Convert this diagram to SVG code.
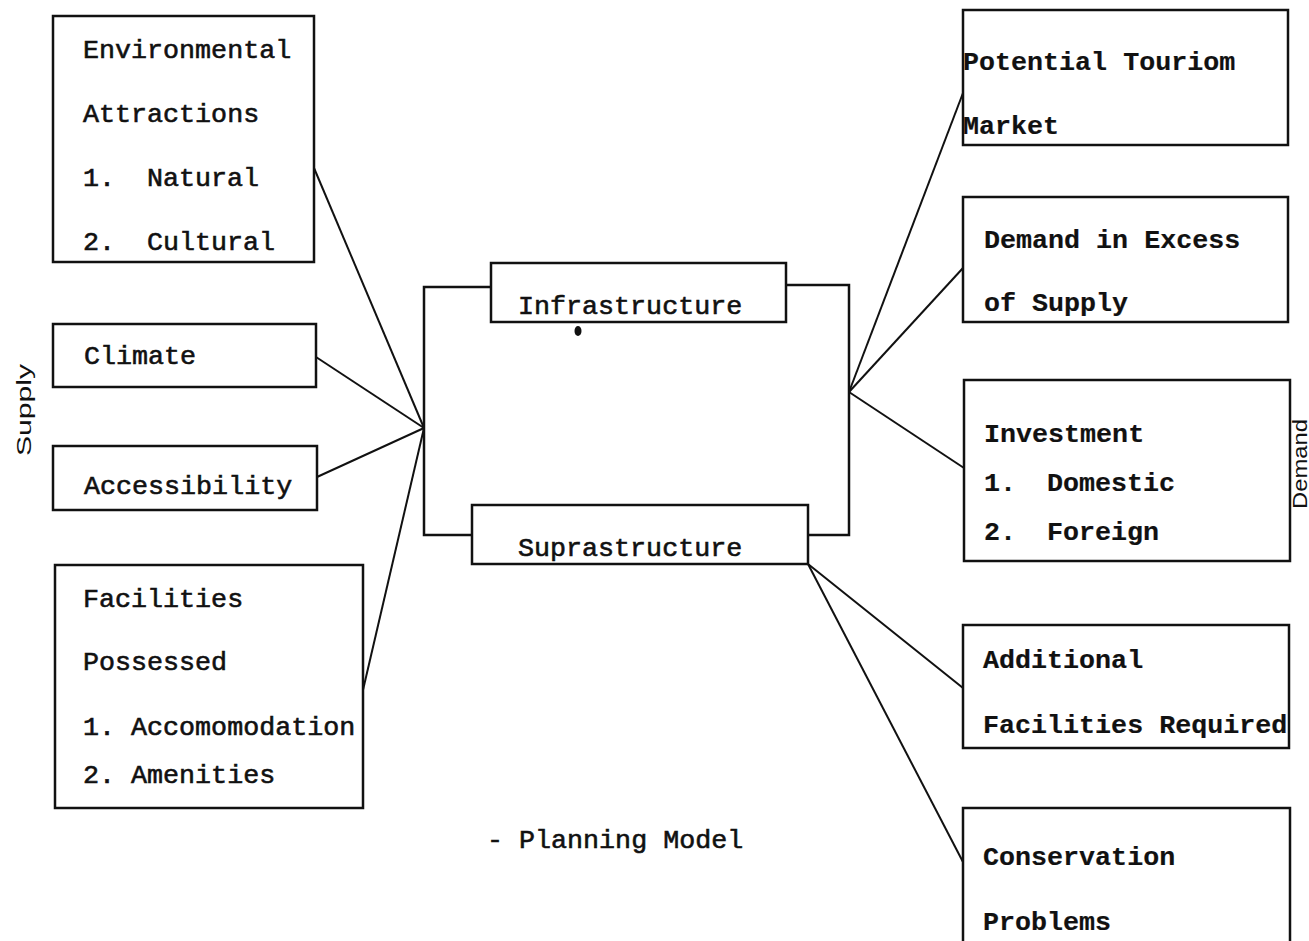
<svg xmlns="http://www.w3.org/2000/svg" width="1309" height="941" viewBox="0 0 1309 941">
<style>
.box{fill:none;stroke:#111;stroke-width:2.5}
.ln{fill:none;stroke:#111;stroke-width:2}
.t{font-family:"Liberation Mono","Courier New",monospace;font-size:26.7px;fill:#111;stroke:#111;stroke-width:0.6}
.b{font-weight:bold;stroke-width:0.2}
.lab{font-family:"Liberation Sans",Arial,sans-serif;font-size:21px;fill:#111}
</style>
<rect width="1309" height="941" fill="#ffffff"/>
<g id="connectors">
<line class="ln" x1="314" y1="168" x2="424" y2="428"/>
<line class="ln" x1="316" y1="357" x2="424" y2="428"/>
<line class="ln" x1="317" y1="477" x2="424" y2="428"/>
<line class="ln" x1="363" y1="690" x2="424" y2="428"/>
<line class="ln" x1="849" y1="392" x2="963" y2="93"/>
<line class="ln" x1="849" y1="392" x2="963" y2="268"/>
<line class="ln" x1="849" y1="392" x2="964" y2="468"/>
<line class="ln" x1="808" y1="564" x2="963" y2="688"/>
<line class="ln" x1="808" y1="564" x2="963" y2="862"/>
<path class="box" d="M491,287 H424 V535 H472 M786,285 H849 V535 H808"/>
</g>
<g id="environmental">
<rect class="box" x="53" y="16" width="261" height="246"/>
<text class="t" x="83" y="58">Environmental</text>
<text class="t" x="83" y="122">Attractions</text>
<text class="t" x="83" y="186">1.</text><text class="t" x="147" y="186">Natural</text>
<text class="t" x="83" y="250">2.</text><text class="t" x="147" y="250">Cultural</text>
</g>
<g id="climate">
<rect class="box" x="53" y="324" width="263" height="63"/>
<text class="t" x="84" y="364">Climate</text>
</g>
<g id="accessibility">
<rect class="box" x="53" y="446" width="264" height="64"/>
<text class="t" x="84" y="494">Accessibility</text>
</g>
<g id="facilities">
<rect class="box" x="55" y="565" width="308" height="243"/>
<text class="t" x="83" y="607">Facilities</text>
<text class="t" x="83" y="670">Possessed</text>
<text class="t" x="83" y="735">1. Accomomodation</text>
<text class="t" x="83" y="783">2. Amenities</text>
</g>
<g id="supply-label">
<text class="lab" transform="translate(31,410) rotate(-90)" text-anchor="middle" textLength="92" lengthAdjust="spacingAndGlyphs">Supply</text>
</g>
<g id="infrastructure">
<rect class="box" x="491" y="263" width="295" height="59"/>
<text class="t" x="518" y="314">Infrastructure</text>
<ellipse cx="578" cy="331" rx="3.5" ry="5" fill="#111"/>
</g>
<g id="suprastructure">
<rect class="box" x="472" y="505" width="336" height="59"/>
<text class="t" x="518" y="556">Suprastructure</text>
</g>
<g id="caption">
<text class="t" x="487" y="848">- Planning Model</text>
</g>
<g id="potential">
<rect class="box" x="963" y="10" width="325" height="135"/>
<text class="t b" x="963" y="70">Potential Touriom</text>
<text class="t b" x="963" y="134">Market</text>
</g>
<g id="excess">
<rect class="box" x="963" y="197" width="325" height="125"/>
<text class="t b" x="984" y="248">Demand in Excess</text>
<text class="t b" x="984" y="311">of Supply</text>
</g>
<g id="investment">
<rect class="box" x="964" y="380" width="326" height="181"/>
<text class="t b" x="984" y="442">Investment</text>
<text class="t b" x="984" y="491">1.</text><text class="t b" x="1047" y="491">Domestic</text>
<text class="t b" x="984" y="540">2.</text><text class="t b" x="1047" y="540">Foreign</text>
</g>
<g id="additional">
<rect class="box" x="963" y="625" width="326" height="123"/>
<text class="t b" x="983" y="668">Additional</text>
<text class="t b" x="983" y="733">Facilities Required</text>
</g>
<g id="conservation">
<rect class="box" x="963" y="808" width="327" height="140"/>
<text class="t b" x="983" y="865">Conservation</text>
<text class="t b" x="983" y="930">Problems</text>
</g>
<g id="demand-label">
<text class="lab" transform="translate(1307,464) rotate(-90)" text-anchor="middle" textLength="90" lengthAdjust="spacingAndGlyphs">Demand</text>
</g>
</svg>
